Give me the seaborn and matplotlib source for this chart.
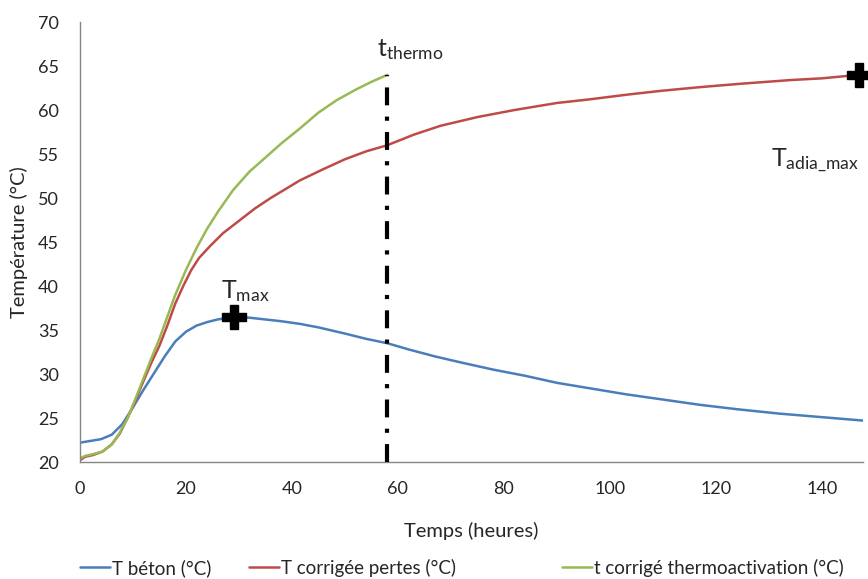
import matplotlib
matplotlib.use("Agg")
import matplotlib.pyplot as plt
import seaborn as sns
import pandas as pd

# Data
t_beton = [0, 2, 4, 6, 8, 10, 12, 14, 16, 18, 20, 22, 24, 26, 28, 30, 32, 35, 38, 41.5,
           45, 50, 54, 58, 62, 67, 72, 78, 84, 90, 96, 103, 110, 117, 124, 132, 140, 148]
T_beton = [22.2, 22.4, 22.6, 23.1, 24.3, 26.2, 28.2, 30.1, 32.0, 33.7, 34.8, 35.5, 35.9, 36.2,
           36.4, 36.5, 36.4, 36.2, 36.0, 35.7, 35.3, 34.6, 34.0, 33.5, 32.8, 32.0, 31.3, 30.5,
           29.8, 29.0, 28.4, 27.7, 27.1, 26.5, 26.0, 25.5, 25.1, 24.7]

t_pertes = [0, 1, 2.5, 4.3, 6, 7.5, 9, 10.5, 12, 13.5, 15, 16.5, 18, 19.5, 21, 22.5, 24.5, 27,
            30, 33, 36, 41.5, 46, 50, 54, 58, 63, 68, 75, 82, 90, 96, 104, 110, 117, 125, 134,
            140, 147]
T_pertes = [20.2, 20.6, 20.8, 21.2, 22.0, 23.2, 25.0, 27.0, 29.2, 31.3, 33.2, 35.5, 38.0, 40.0,
            41.8, 43.2, 44.5, 46.0, 47.4, 48.8, 50.0, 52.0, 53.3, 54.4, 55.3, 56.0, 57.2, 58.2,
            59.2, 60.0, 60.8, 61.2, 61.8, 62.2, 62.6, 63.0, 63.4, 63.6, 64.0]

t_thermo = [0, 1, 2.5, 4.3, 6, 7.5, 9, 10.5, 12, 13.5, 15, 16.5, 18, 20, 22, 24, 26, 28.9, 32,
            35.2, 38, 41.5, 45, 48.4, 52, 55, 58]
T_thermo = [20.4, 20.7, 20.9, 21.2, 22.0, 23.3, 25.0, 27.2, 29.5, 31.8, 34.0, 36.5, 39.0, 41.8,
            44.3, 46.5, 48.4, 50.9, 53.0, 54.7, 56.2, 57.9, 59.7, 61.1, 62.3, 63.2, 64.0]

labels = ['T béton (°C)', 'T corrigée pertes (°C)', 't corrigé thermoactivation (°C)']
colors = ['#4A7EBB', '#BE4B48', '#98B954']

t_max_point = (29, 36.5)
t_adia_point = (147, 64.0)
t_thermo_time = 58

df = pd.concat([
    pd.DataFrame({'Temps': t_beton, 'T': T_beton, 'Série': labels[0]}),
    pd.DataFrame({'Temps': t_pertes, 'T': T_pertes, 'Série': labels[1]}),
    pd.DataFrame({'Temps': t_thermo, 'T': T_thermo, 'Série': labels[2]}),
])

sns.set_style('white')
plt.rcParams['font.family'] = ['Lato', 'DejaVu Sans']
plt.rcParams['mathtext.fontset'] = 'custom'
plt.rcParams['mathtext.rm'] = 'Lato'

fig = plt.figure(figsize=(8.68, 5.79), dpi=100)
ax = fig.add_axes([0.092, 0.202, 0.902, 0.76])

sns.lineplot(data=df, x='Temps', y='T', hue='Série', palette=colors, linewidth=1.8,
             sort=False, estimator=None, ax=ax, legend=True)

# t_thermo vertical line
ax.plot([t_thermo_time, t_thermo_time], [20, 64], color='black', lw=3,
        linestyle=(0, (4.3, 2.7, 1, 2.7)), zorder=3)

# crosses
ax.plot(*t_max_point, marker='P', color='black', ms=17, zorder=4)
ax.plot(*t_adia_point, marker='P', color='black', ms=17, zorder=4, clip_on=False)

ax.text(31.2, 39.4, r'$\mathrm{T_{max}}$', fontsize=18, ha='center', va='center')
ax.text(62.3, 66.9, r'$\mathrm{t_{thermo}}$', fontsize=18, ha='center', va='center')
ax.text(138.7, 54.3, r'$\mathrm{T_{adia\_max}}$', fontsize=18, ha='center', va='center')

ax.set_xlim(0, 147.7)
ax.set_ylim(20, 70)
ax.set_xticks(range(0, 141, 20))
ax.set_yticks(range(20, 71, 5))
ax.tick_params(axis='both', length=0, labelsize=13)
ax.tick_params(axis='y', pad=15)
ax.tick_params(axis='x', pad=14)

ax.set_xlabel('Temps (heures)', fontsize=14.5)
ax.set_ylabel('Température (°C)', fontsize=14.5)
ax.xaxis.set_label_coords(0.5, -0.135)
ax.yaxis.set_label_coords(-0.066, 0.5)

for s in ['top', 'right']:
    ax.spines[s].set_visible(False)
for s in ['left', 'bottom']:
    ax.spines[s].set_color('#868686')
    ax.spines[s].set_linewidth(1)

# legend: one entry per slot, placed like the Excel legend
handles, lbls = ax.get_legend_handles_labels()
ax.get_legend().remove()
slots = [0.092, 0.287, 0.648]
for h, l, x0 in zip(handles, lbls, slots):
    leg = fig.legend([h], [l], loc='center left', bbox_to_anchor=(x0, 0.019),
                     frameon=False, fontsize=13.5, handlelength=1.6,
                     handletextpad=0.1, borderaxespad=0, borderpad=0)

fig.savefig('out.png', dpi=100)
